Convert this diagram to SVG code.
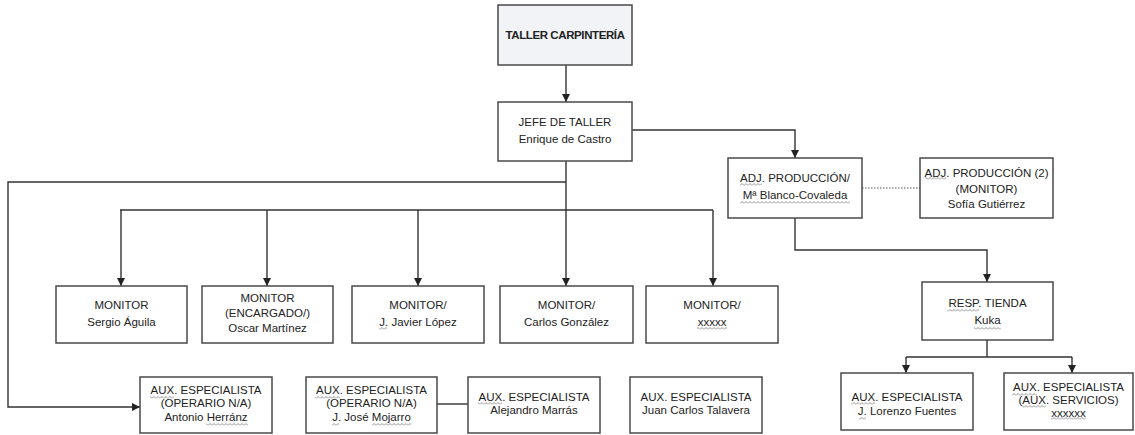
<svg xmlns="http://www.w3.org/2000/svg" width="1135" height="435" viewBox="0 0 1135 435">
<style>
.box{fill:#ffffff;stroke:#4a4a4a;stroke-width:1.5}
.title{fill:#f1f3f7}
text{font-family:"Liberation Sans",Arial,sans-serif;font-size:11.5px;fill:#222;text-anchor:middle}
.b{font-weight:bold;letter-spacing:-0.4px}
.ln{fill:none;stroke:#333;stroke-width:1.4}
.ar{marker-end:url(#ah)}
.dot{fill:none;stroke:#555;stroke-width:1.2;stroke-dasharray:1.5 1.5}
.sq{fill:url(#wv)}
</style>
<defs>
<marker id="ah" markerWidth="9" markerHeight="9" refX="8" refY="4.5" orient="auto" markerUnits="userSpaceOnUse">
<path d="M0,0.5 L8,4.5 L0,8.5 z" fill="#222"/>
</marker>
<pattern id="wv" width="4" height="3" patternUnits="userSpaceOnUse">
<path d="M0,2.5 L2,0.5 L4,2.5" fill="none" stroke="#777" stroke-width="0.8"/>
</pattern>
</defs>
<rect width="1135" height="435" fill="#ffffff"/>
<g id="connectors">
<path class="ln ar" d="M566,65 V102"/>
<path class="ln ar" d="M632,130 H795 V158"/>
<path class="dot" d="M862,188 H920"/>
<path class="ln ar" d="M566,161 V286"/>
<path class="ln ar" d="M566,182 H8 V407 H140"/>
<path class="ln" d="M120,210 H713"/>
<path class="ln ar" d="M121,210 V286"/>
<path class="ln ar" d="M267,210 V286"/>
<path class="ln ar" d="M418,210 V286"/>
<path class="ln ar" d="M713,210 V286"/>
<path class="ln ar" d="M795,218 V250 H987 V282"/>
<path class="ln" d="M987,340 V357 M906,357 H1072"/>
<path class="ln ar" d="M906,357 V373"/>
<path class="ln ar" d="M1072,357 V373"/>
<path class="ln" d="M437,404 H468"/>
</g>
<g id="taller">
<rect class="box title" x="498" y="5" width="134" height="60"/>
<text class="b" x="565" y="39">TALLER CARPINTERÍA</text>
</g>
<g id="jefe">
<rect class="box" x="498" y="102" width="134" height="59"/>
<text x="565" y="126">JEFE DE TALLER</text>
<text x="565" y="143">Enrique de Castro</text>
</g>
<g id="adj1">
<rect class="box" x="728" y="158" width="134" height="60"/>
<text x="795" y="182">ADJ. PRODUCCIÓN/</text>
<text x="795" y="199">Mª Blanco-Covaleda</text>
<rect class="sq" x="740" y="183" width="22" height="3"/>
<rect class="sq" x="740" y="201" width="110" height="3"/>
</g>
<g id="adj2">
<rect class="box" x="920" y="158" width="133" height="60"/>
<text x="986.5" y="177">ADJ. PRODUCCIÓN (2)</text>
<text x="986.5" y="193">(MONITOR)</text>
<text x="986.5" y="208">Sofía Gutiérrez</text>
<rect class="sq" x="925" y="177" width="21" height="3"/>
</g>
<g id="monitor1">
<rect class="box" x="56" y="286" width="131" height="57"/>
<text x="121.5" y="309">MONITOR</text>
<text x="121.5" y="326">Sergio Águila</text>
</g>
<g id="monitor2">
<rect class="box" x="202" y="286" width="131" height="57"/>
<text x="267.5" y="302">MONITOR</text>
<text x="267.5" y="317">(ENCARGADO/)</text>
<text x="267.5" y="332">Oscar Martínez</text>
</g>
<g id="monitor3">
<rect class="box" x="352" y="286" width="132" height="57"/>
<text x="418" y="309">MONITOR/</text>
<text x="418" y="326">J. Javier López</text>
<rect class="sq" x="379" y="327" width="8" height="3"/>
</g>
<g id="monitor4">
<rect class="box" x="500" y="286" width="133" height="57"/>
<text x="566.5" y="309">MONITOR/</text>
<text x="566.5" y="326">Carlos González</text>
</g>
<g id="monitor5">
<rect class="box" x="646" y="286" width="132" height="57"/>
<text x="712" y="309">MONITOR/</text>
<text x="712" y="326">xxxxx</text>
<rect class="sq" x="697" y="327" width="30" height="3"/>
</g>
<g id="resp">
<rect class="box" x="922" y="282" width="131" height="58"/>
<text x="987.5" y="307">RESP. TIENDA</text>
<text x="987.5" y="324">Kuka</text>
<rect class="sq" x="947" y="309" width="32" height="3"/>
<rect class="sq" x="974" y="327" width="27" height="3"/>
</g>
<g id="aux1">
<rect class="box" x="140" y="377" width="132" height="56"/>
<text x="206" y="394">AUX. ESPECIALISTA</text>
<text x="206" y="407">(OPERARIO N/A)</text>
<text x="206" y="421">Antonio Herránz</text>
<rect class="sq" x="150" y="396" width="24" height="3"/>
<rect class="sq" x="206" y="423" width="42" height="3"/>
</g>
<g id="aux2">
<rect class="box" x="306" y="377" width="131" height="56"/>
<text x="371.5" y="394">AUX. ESPECIALISTA</text>
<text x="371.5" y="407">(OPERARIO N/A)</text>
<text x="371.5" y="421">J. José Mojarro</text>
<rect class="sq" x="315" y="396" width="25" height="3"/>
<rect class="sq" x="332" y="423" width="7" height="3"/>
<rect class="sq" x="372" y="423" width="39" height="3"/>
</g>
<g id="aux3">
<rect class="box" x="468" y="377" width="132" height="56"/>
<text x="534" y="401">AUX. ESPECIALISTA</text>
<text x="534" y="414">Alejandro Marrás</text>
<rect class="sq" x="478" y="402" width="24" height="3"/>
</g>
<g id="aux4">
<rect class="box" x="630" y="377" width="132" height="56"/>
<text x="696" y="401">AUX. ESPECIALISTA</text>
<text x="696" y="414">Juan Carlos Talavera</text>
</g>
<g id="aux5">
<rect class="box" x="841" y="373" width="132" height="57"/>
<text x="907" y="401">AUX. ESPECIALISTA</text>
<text x="907" y="415">J. Lorenzo Fuentes</text>
<rect class="sq" x="851" y="402" width="24" height="3"/>
<rect class="sq" x="859" y="417" width="7" height="3"/>
</g>
<g id="aux6">
<rect class="box" x="1004" y="373" width="129" height="57"/>
<text x="1068.5" y="391">AUX. ESPECIALISTA</text>
<text x="1068.5" y="404">(AUX. SERVICIOS)</text>
<text x="1068.5" y="417">xxxxxx</text>
<rect class="sq" x="1012" y="393" width="25" height="3"/>
<rect class="sq" x="1022" y="405" width="24" height="3"/>
<rect class="sq" x="1051" y="417" width="35" height="3"/>
</g>
</svg>
